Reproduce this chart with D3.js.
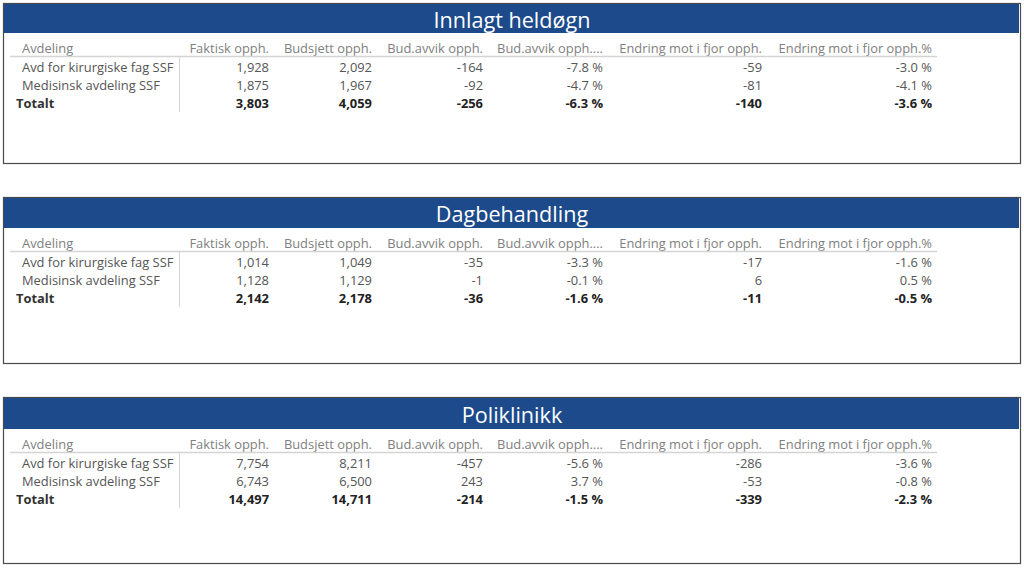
<!DOCTYPE html>
<html><head><meta charset="utf-8">
<script src="https://cdn.jsdelivr.net/npm/d3@7/dist/d3.min.js"></script>
<style>body{margin:0;background:#fff;}svg{display:block;}</style>
</head><body>
<script>
const sections = ["Innlagt heldøgn", "Dagbehandling", "Poliklinikk"];
const columns = ["Avdeling","Faktisk opph.","Budsjett opph.","Bud.avvik opph.","Bud.avvik opph....","Endring mot i fjor opph.","Endring mot i fjor opph.%"];
const departments = ["Avd for kirurgiske fag SSF","Medisinsk avdeling SSF"];
const totalLabel = "Totalt";
const faktisk   = [[1928,1875],[1014,1128],[7754,6743]];
const budsjett  = [[2092,1967],[1049,1129],[8211,6500]];
const avvik     = [[-164,-92],[-35,-1],[-457,243]];
const avvikPct  = [[-7.8,-4.7],[-3.3,-0.1],[-5.6,3.7]];
const endring   = [[-59,-81],[-17,6],[-286,-53]];
const endringPct= [[-3.0,-4.1],[-1.6,0.5],[-3.6,-0.8]];
const totFaktisk   = [3803,2142,14497];
const totBudsjett  = [4059,2178,14711];
const totAvvik     = [-256,-36,-214];
const totAvvikPct  = [-6.3,-1.6,-1.5];
const totEndring   = [-140,-11,-339];
const totEndringPct= [-3.6,-0.5,-2.3];

const W=1024,H=569;
const svg=d3.select("body").append("svg").attr("width",W).attr("height",H);
const font="'Segoe UI','Open Sans','Noto Sans',sans-serif";
const fs=12.9;

const panelTop=[3,197,397], panelBottom=[163,363,563];
const headerH=[30,31,32];
const colRight=d3.scaleOrdinal().domain(columns.slice(1)).range([269,372,483,603,762,932]);
const loc=d3.formatLocale({decimal:".",thousands:",",grouping:[3],currency:["",""],minus:"-"});
const fmtN=loc.format(",");
const fmtP=v=>loc.format(".1f")(v)+" %";
const fmts=[fmtN,fmtN,fmtN,fmtP,fmtN,fmtP];

sections.forEach((s,i)=>{
  const g=svg.append("g");
  const top=panelTop[i], hb=top+headerH[i];
  g.append("rect").attr("x",3.5).attr("y",top+0.5).attr("width",1017).attr("height",panelBottom[i]-top)
    .attr("fill","#fff").attr("stroke","#4a4a4a").attr("stroke-width",1.2);
  g.append("rect").attr("x",4).attr("y",top+1).attr("width",1015).attr("height",headerH[i]-1).attr("fill","#1c4a8b");
  g.append("text").attr("x",512).attr("y",top+headerH[i]/2+1).attr("text-anchor","middle").attr("dominant-baseline","central")
    .attr("fill","#fff").attr("font-family",font).attr("font-size",21.6).text(s);
  const hy=hb+15;
  g.append("text").attr("x",22).attr("y",hy).attr("dominant-baseline","central").attr("fill","#808080")
    .attr("font-family",font).attr("font-size",fs).text(columns[0]);
  columns.slice(1).forEach(c=>{
    g.append("text").attr("x",colRight(c)).attr("y",hy).attr("text-anchor","end").attr("dominant-baseline","central")
      .attr("fill","#808080").attr("font-family",font).attr("font-size",fs).text(c);
  });
  g.append("line").attr("x1",10).attr("x2",937).attr("y1",hb+23.5).attr("y2",hb+23.5).attr("stroke","#d4d4d4").attr("stroke-width",1.5);
  g.append("line").attr("x1",179.5).attr("x2",179.5).attr("y1",hb+24).attr("y2",hb+79).attr("stroke","#d4d4d4").attr("stroke-width",1);
  const rowY=d3.scaleLinear().domain([0,1]).range([hb+34,hb+52]);
  const series=[faktisk,budsjett,avvik,avvikPct,endring,endringPct];
  departments.forEach((d,r)=>{
    const y=rowY(r);
    g.append("text").attr("x",22).attr("y",y).attr("dominant-baseline","central").attr("fill","#555")
      .attr("font-family",font).attr("font-size",fs).text(d);
    series.forEach((arr,k)=>{
      g.append("text").attr("x",colRight(columns[k+1])).attr("y",y).attr("text-anchor","end").attr("dominant-baseline","central")
        .attr("fill","#555").attr("font-family",font).attr("font-size",fs).text(fmts[k](arr[i][r]));
    });
  });
  const ty=rowY(2);
  const tots=[totFaktisk,totBudsjett,totAvvik,totAvvikPct,totEndring,totEndringPct];
  g.append("text").attr("x",16).attr("y",ty).attr("dominant-baseline","central").attr("fill","#333").attr("font-weight","bold")
    .attr("font-family",font).attr("font-size",fs).text(totalLabel);
  tots.forEach((arr,k)=>{
    g.append("text").attr("x",colRight(columns[k+1])).attr("y",ty).attr("text-anchor","end").attr("dominant-baseline","central")
      .attr("fill","#222").attr("font-weight","bold").attr("font-family",font).attr("font-size",fs).text(fmts[k](arr[i]));
  });
});
</script>
</body></html>
